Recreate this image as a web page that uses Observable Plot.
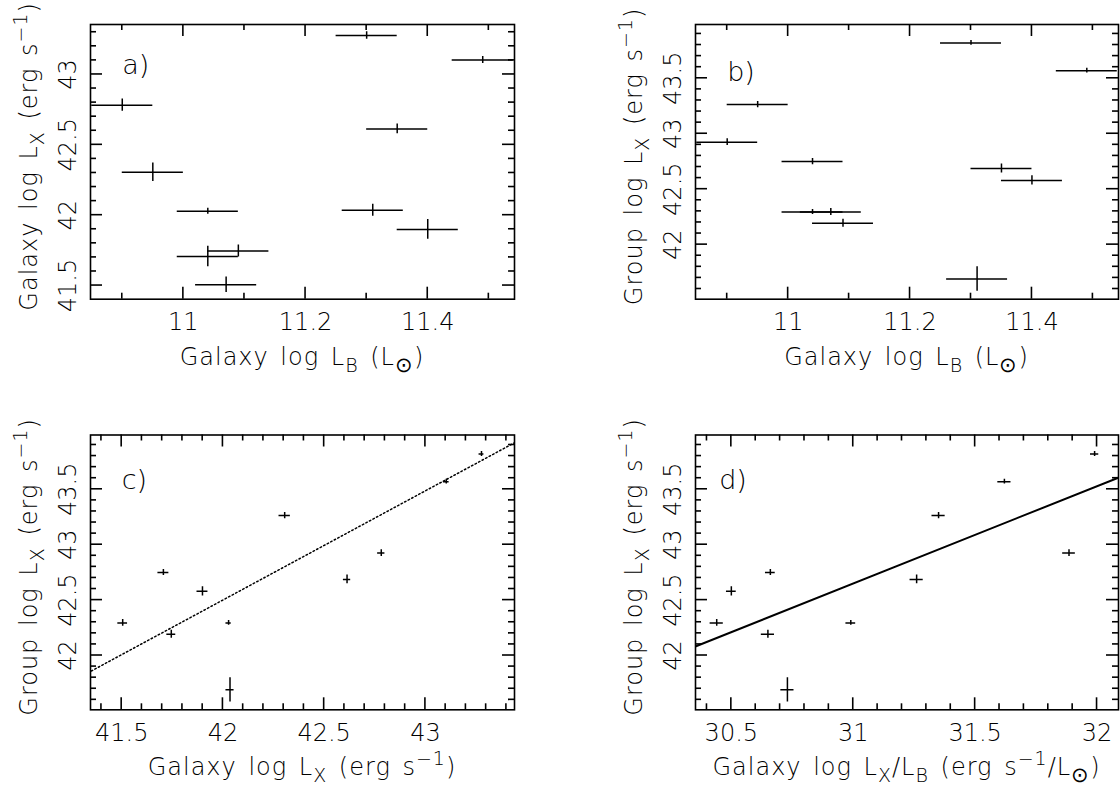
<!DOCTYPE html>
<html><head><meta charset="utf-8">
<script src="https://cdn.jsdelivr.net/npm/d3@7"></script>
<script src="https://cdn.jsdelivr.net/npm/@observablehq/plot@0.6"></script>
<style>
html,body{margin:0;padding:0;background:#fff;}
#root{position:relative;width:1120px;height:789px;overflow:hidden;background:#fff;}
.panel{position:absolute;}
svg{overflow:visible;}
</style></head><body><div id="root"></div>
<script>
// ---- data (one entry per galaxy/group) ----
const galaxyLogLB     = [11.30, 11.49, 10.90, 11.35, 10.95, 11.04, 11.31, 11.40, 11.04, 11.09, 11.07];
const galaxyLogLBErr  = [0.05, 0.05, 0.05, 0.05, 0.05, 0.05, 0.05, 0.05, 0.05, 0.05, 0.05];
const galaxyLogLX     = [43.277, 43.103, 42.782, 42.613, 42.305, 42.028, 42.035, 41.899, 41.706, 41.745, 41.505];
const galaxyLogLXErrA = [0.027, 0.025, 0.044, 0.035, 0.065, 0.021, 0.043, 0.070, 0.073, 0.043, 0.055];
const galaxyLogLXErrC = [0.012, 0.014, 0.018, 0.018, 0.028, 0.013, 0.020, 0.027, 0.027, 0.022, 0.024];
const groupLogLX      = [43.819, 43.569, 42.924, 42.687, 43.263, 42.294, 41.690, 42.579, 42.749, 42.192, 42.294];
const groupLogLXErr   = [0.022, 0.022, 0.030, 0.040, 0.028, 0.022, 0.110, 0.042, 0.028, 0.036, 0.031];
const galaxyLXoverLB  = [31.99, 31.62, 31.885, 31.26, 31.35, 30.99, 30.73, 30.50, 30.66, 30.65, 30.44];
const galaxyLXoverLBErr = [0.017, 0.027, 0.026, 0.027, 0.027, 0.020, 0.027, 0.020, 0.020, 0.027, 0.027];

// fitted relations (end points)
const fitC_x = [41.35, 43.44];
const fitC_y = [41.86, 43.92];
const fitD_x = [30.355, 32.088];
const fitD_y = [42.084, 43.605];

// tick labels
const ticksLB   = [11, 11.2, 11.4];
const ticksGalLX = [41.5, 42, 42.5, 43];
const ticksGrpLX = [42, 42.5, 43, 43.5];
const ticksRatio = [30.5, 31, 31.5, 32];

// ---- helpers ----
const FONT = "DejaVu Sans";
const WEIGHT = 300;
function rows(xs, ys, exs, eys) {
  return xs.map((x, i) => ({x, y: ys[i], ex: exs[i], ey: eys[i]}));
}
function tenths(lo, hi) { // tick positions at every 0.1 inside [lo, hi]
  const out = [];
  for (let i = Math.ceil(lo * 10 - 1e-6); i <= Math.floor(hi * 10 + 1e-6); i++) out.push(i / 10);
  return out;
}
function errorMarks(data) {
  return [
    Plot.ruleY(data, {y: "y", x1: d => d.x - d.ex, x2: d => d.x + d.ex, stroke: "#000", strokeWidth: 1.5, clip: true}),
    Plot.ruleX(data, {x: "x", y1: d => d.y - d.ey, y2: d => d.y + d.ey, stroke: "#000", strokeWidth: 1.5, clip: true})
  ];
}
function rich(sel, parts) {
  let shift = 0;
  for (const [t, k] of parts) {
    const target = k === "sub" ? 7 : k === "sup" ? -10 : 0;
    const span = sel.append("tspan").attr("dy", target - shift).text(t);
    if (k) span.attr("font-size", t === "\u2299" ? 21 : 19);
    shift = target;
  }
}
function panel(cfg) {
  const {left, top, width, height, mL, mR, mT, mB, xDomain, yDomain,
         xMajorStep, yMajorStep, xLabels, yLabels, marks, tag} = cfg;
  const isMajor = (v, step) => Math.abs(v / step - Math.round(v / step)) < 1e-6;
  const xAll = tenths(xDomain[0], xDomain[1]);
  const yAll = tenths(yDomain[0], yDomain[1]);
  const xTicks = xAll.map(v => ({v, len: isMajor(v, xMajorStep) ? 12 : 6}));
  const yTicks = yAll.map(v => ({v, len: isMajor(v, yMajorStep) ? 12 : 6}));
  const plot = Plot.plot({
    width, height, marginLeft: mL, marginRight: mR, marginTop: mT, marginBottom: mB,
    x: {domain: xDomain, axis: null}, y: {domain: yDomain, axis: null},
    marks: [
      ...marks,
      Plot.frame({stroke: "#000", strokeWidth: 1.6}),
      Plot.axisX({anchor: "bottom", ticks: xLabels, tickSize: 0, tickPadding: 14, tickFormat: d => String(d),
                  fontSize: 24, fontFamily: FONT, fontWeight: WEIGHT, fill: "#000", label: null}),
      Plot.text(yLabels, {y: d => d, text: d => String(d), frameAnchor: "left", rotate: -90, fill: "#000",
                  textAnchor: "middle", lineAnchor: "bottom", dx: -15, fontSize: 24, fontFamily: FONT, fontWeight: WEIGHT}),
      Plot.text([tag], {x: "x", y: "y", text: "t", textAnchor: "start", lineAnchor: "bottom", fill: "#000",
                  fontSize: 27, fontFamily: FONT, fontWeight: WEIGHT})
    ]
  });
  const svg = plot;
  const s = d3.select(svg);
  // inward ticks on all four sides, placed with Plot's own x/y scales
  try {
    const X = plot.scale("x"), Y = plot.scale("y");
    const yb = height - mB, yt0 = mT, xl = mL, xr = width - mR;
    const g = s.append("g").attr("stroke", "#000").attr("stroke-width", 1.6).attr("fill", "none");
    for (const t of xTicks) {
      const px = X.apply(t.v);
      g.append("line").attr("x1", px).attr("x2", px).attr("y1", yb).attr("y2", yb - t.len);
      g.append("line").attr("x1", px).attr("x2", px).attr("y1", yt0).attr("y2", yt0 + t.len);
    }
    for (const t of yTicks) {
      const py = Y.apply(t.v);
      g.append("line").attr("y1", py).attr("y2", py).attr("x1", xl).attr("x2", xl + t.len);
      g.append("line").attr("y1", py).attr("y2", py).attr("x1", xr).attr("x2", xr - t.len);
    }
  } catch (e) { /* leave the panel without minor decorations */ }
  const fx = (mL + width - mR) / 2;
  const fy = (mT + height - mB) / 2;
  const xt = s.append("text").attr("x", fx).attr("y", height - mB + 66).attr("text-anchor", "middle")
    .attr("font-family", FONT).attr("font-size", 24).attr("font-weight", WEIGHT)
    .attr("letter-spacing", 1).attr("word-spacing", 3).attr("fill", "#000");
  rich(xt, cfg.xTitle);
  const yt = s.append("text").attr("transform", `translate(${mL - 53},${fy - 5}) rotate(-90)`)
    .attr("text-anchor", "middle").attr("font-family", FONT).attr("font-size", 24).attr("font-weight", WEIGHT)
    .attr("letter-spacing", 1).attr("word-spacing", 3).attr("fill", "#000");
  rich(yt, cfg.yTitle);
  const div = document.createElement("div");
  div.className = "panel";
  div.style.left = left + "px"; div.style.top = top + "px";
  div.style.width = width + "px"; div.style.height = height + "px";
  div.appendChild(svg);
  document.getElementById("root").appendChild(div);
}

const titleLB = [["Galaxy log L"], ["B", "sub"], [" (L"], ["\u2299", "sub"], [")"]];
const titleGalLX = [["Galaxy log L"], ["X", "sub"], [" (erg s"], ["\u22121", "sup"], [")"]];
const titleGrpLX = [["Group log L"], ["X", "sub"], [" (erg s"], ["\u22121", "sup"], [")"]];
const titleRatio = [["Galaxy log L"], ["X", "sub"], ["/L"], ["B", "sub"], [" (erg s"], ["\u22121", "sup"], ["/L"], ["\u2299", "sub"], [")"]];

const dataA = rows(galaxyLogLB, galaxyLogLX, galaxyLogLBErr, galaxyLogLXErrA);
const dataB = rows(galaxyLogLB, groupLogLX, galaxyLogLBErr, groupLogLXErr);
const dataC = rows(galaxyLogLX, groupLogLX, galaxyLogLXErrC, groupLogLXErr);
const dataD = rows(galaxyLXoverLB, groupLogLX, galaxyLXoverLBErr, groupLogLXErr);
const lineC = fitC_x.map((x, i) => ({x, y: fitC_y[i]}));
const lineD = fitD_x.map((x, i) => ({x, y: fitD_y[i]}));

const top0 = {top: 0, height: 395, mT: 24, mB: 96.3};
const top1 = {top: 395, height: 394, mT: 39.5, mB: 79.7};
const colL = {left: 0, width: 560, mL: 90, mR: 46};
const colR = {left: 560, width: 560, mL: 135, mR: 2};

panel({...top0, ...colL, xDomain: [10.848, 11.542], yDomain: [41.403, 43.355],
  xMajorStep: 0.2, yMajorStep: 0.5, xLabels: ticksLB, yLabels: ticksGalLX,
  marks: errorMarks(dataA), tag: {x: 10.9, y: 43.0, t: "a)"},
  xTitle: titleLB, yTitle: titleGalLX});
panel({...top0, ...colR, xDomain: [10.848, 11.542], yDomain: [41.508, 43.985],
  xMajorStep: 0.2, yMajorStep: 0.5, xLabels: ticksLB, yLabels: ticksGrpLX,
  marks: errorMarks(dataB), tag: {x: 10.9, y: 43.48, t: "b)"},
  xTitle: titleLB, yTitle: titleGrpLX});
panel({...top1, ...colL, xDomain: [41.346, 43.44], yDomain: [41.51, 43.99],
  xMajorStep: 0.5, yMajorStep: 0.5, xLabels: ticksGalLX, yLabels: ticksGrpLX,
  marks: [Plot.line(lineC, {x: "x", y: "y", stroke: "#000", strokeWidth: 1.5, strokeDasharray: "1.5,2.5", clip: true}),
          ...errorMarks(dataC)],
  tag: {x: 41.5, y: 43.5, t: "c)"},
  xTitle: titleGalLX, yTitle: titleGrpLX});
panel({...top1, ...colR, xDomain: [30.353, 32.088], yDomain: [41.51, 43.99],
  xMajorStep: 0.5, yMajorStep: 0.5, xLabels: ticksRatio, yLabels: ticksGrpLX,
  marks: [Plot.line(lineD, {x: "x", y: "y", stroke: "#000", strokeWidth: 2, clip: true}),
          ...errorMarks(dataD)],
  tag: {x: 30.45, y: 43.5, t: "d)"},
  xTitle: titleRatio, yTitle: titleGrpLX});
</script>
</body></html>
